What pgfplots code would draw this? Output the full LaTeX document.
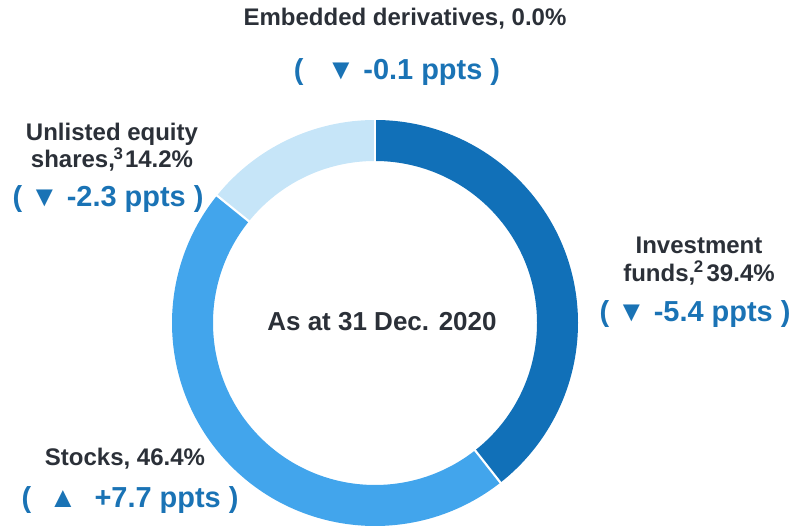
\documentclass[border=0pt]{standalone}
\usepackage{pgfplots}
\pgfplotsset{compat=1.18}
\usepackage{pgfplotstable}
\usepackage{fontspec}
\setmainfont{Liberation Sans}
\definecolor{cA}{HTML}{1170B8}
\definecolor{cB}{HTML}{42A5EC}
\definecolor{cC}{HTML}{C6E5F8}
\definecolor{lab}{HTML}{2B3038}
\definecolor{blu}{HTML}{1A73B5}
\pgfplotstableread{
name share
Investment 39.4
Stocks 46.4
Unlisted 14.2
Embedded 0.0
}\shares
\begin{document}
\begin{tikzpicture}
\pgfplotstablegetelem{0}{share}\of\shares \let\sA\pgfplotsretval
\pgfplotstablegetelem{1}{share}\of\shares \let\sB\pgfplotsretval
\pgfplotstablegetelem{2}{share}\of\shares \let\sC\pgfplotsretval
\pgfmathsetmacro{\aO}{90}
\pgfmathsetmacro{\aA}{\aO-3.6*\sA}
\pgfmathsetmacro{\aB}{\aA-3.6*\sB}
\pgfmathsetmacro{\aC}{\aB-3.6*\sC}
\def\Ro{152.25pt}
\def\Ri{121.5pt}
\def\wedge#1#2#3{%
  \fill[#1] ([shift={(#2:\Ro)}]axis cs:375,207) arc[start angle=#2,end angle=#3,radius=\Ro]
    -- ([shift={(#3:\Ri)}]axis cs:375,207) arc[start angle=#3,end angle=#2,radius=\Ri] -- cycle;}
\def\sep#1{\draw[white,line width=1.6pt] ([shift={(#1:\Ri-1pt)}]axis cs:375,207) -- ([shift={(#1:\Ro+1pt)}]axis cs:375,207);}
\begin{axis}[scale only axis, width=597pt, height=397.5pt,
  xmin=0, xmax=796, ymin=0, ymax=530, hide axis, clip=false, anchor=south west, at={(0,0)}]
\wedge{cA}{\aO}{\aA}
\wedge{cB}{\aA}{\aB}
\wedge{cC}{\aB}{\aC}
\sep{\aO}\sep{\aA}\sep{\aB}
\tikzset{lbl/.style={text=lab, font=\bfseries\fontsize{18}{20.5}\selectfont, align=center, inner sep=0pt},
  bl/.style={text=blu, font=\bfseries\fontsize{21.7}{24}\selectfont, inner sep=0pt}}
\node[lbl] at (axis cs:405,511) {Embedded derivatives, 0.0\%};
\node[bl] at (axis cs:397,458) {(\hspace{0.8em}▼ -0.1 ppts )};
\node[lbl] at (axis cs:112,383) {Unlisted equity\\shares,\kern-1pt\textsuperscript{3}\kern1pt14.2\%};
\node[bl] at (axis cs:108,331) {( ▼ -2.3 ppts )};
\node[lbl] at (axis cs:699,269) {Investment\\funds,\kern-1pt\textsuperscript{2}\kern2pt39.4\%};
\node[bl] at (axis cs:695,216) {( ▼ -5.4 ppts )};
\node[lbl] at (axis cs:125,71) {Stocks, 46.4\%};
\node[bl] at (axis cs:130,30) {(\hspace{0.6em}▲\hspace{0.6em}+7.7 ppts )};
\node[lbl, font=\bfseries\fontsize{19.5}{22}\selectfont] at (axis cs:382,208) {As at 31 Dec. 2020};
\end{axis}
\pgfresetboundingbox
\path (0,0) rectangle (597pt,397.5pt);
\end{tikzpicture}
\end{document}
